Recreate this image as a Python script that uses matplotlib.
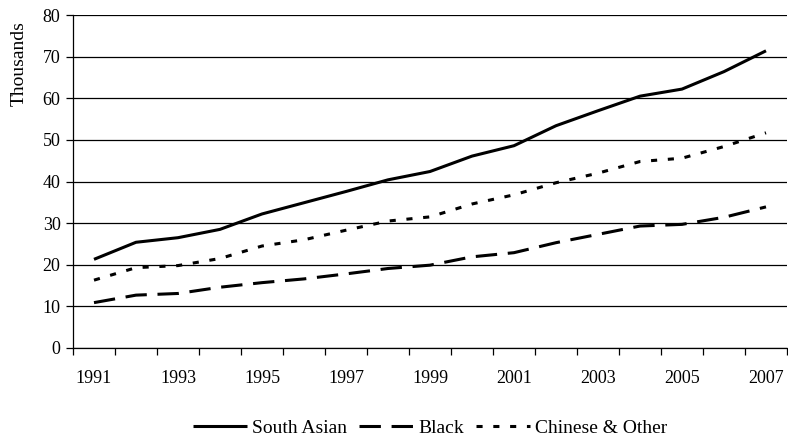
import matplotlib
matplotlib.use("Agg")
import matplotlib.pyplot as plt
import numpy as np

years = list(range(1991, 2008))
south_asian = [21.3, 25.4, 26.5, 28.5, 32.2, 34.9, 37.6, 40.4, 42.4, 46.1, 48.6,
               53.4, 57.0, 60.5, 62.2, 66.4, 71.4]
black = [10.9, 12.7, 13.1, 14.6, 15.7, 16.6, 17.8, 19.1, 19.9, 21.9, 22.9,
         25.3, 27.3, 29.3, 29.7, 31.4, 33.9]
chinese_other = [16.3, 19.3, 19.8, 21.5, 24.5, 26.0, 28.3, 30.5, 31.5, 34.6, 36.8,
                 39.7, 42.0, 44.8, 45.6, 48.4, 51.7]
y_ticks = [0, 10, 20, 30, 40, 50, 60, 70, 80]

plt.rcParams['font.family'] = ['Liberation Serif', 'DejaVu Serif']

fig = plt.figure(figsize=(7.88, 4.45), dpi=100)
ax = fig.add_axes([73 / 788, 97 / 445, 714 / 788, 333 / 445])

x = np.arange(len(years))
lw = 2.2
ax.plot(x, south_asian, color='black', lw=lw, solid_capstyle='butt', label='South Asian')
ax.plot(x, black, color='black', lw=lw, dashes=(7, 3.5), dash_capstyle='butt', label='Black')
ax.plot(x, chinese_other, color='black', lw=lw, dashes=(2, 3.5), dash_capstyle='butt',
        label='Chinese & Other')

ax.set_xlim(-0.5, len(years) - 0.5)
ax.set_ylim(0, 80)
ax.set_yticks(y_ticks)
ax.yaxis.grid(True, color='black', lw=0.9)
ax.set_axisbelow(True)

# ticks sit between categories; labels sit on every other category centre
ax.set_xticks(np.arange(-0.5, len(years), 1.0))
ax.set_xticklabels([])
ax.set_xticks(x[::2], minor=True)
ax.set_xticklabels([str(y) for y in years[::2]], minor=True)
ax.tick_params(axis='x', which='major', direction='out', length=5, width=0.9, color='black')
ax.tick_params(axis='x', which='minor', length=0, pad=16, labelsize=13)
ax.tick_params(axis='y', direction='out', length=5, width=0.9, labelsize=13, pad=4)

for s in ['top', 'right']:
    ax.spines[s].set_visible(False)
for s in ['left', 'bottom']:
    ax.spines[s].set_color('black')
    ax.spines[s].set_linewidth(0.9)

fig.text(19 / 788, 1 - 64 / 445, 'Thousands', rotation=90, ha='center', va='center', fontsize=14)

# legend centred under the plotting area
fig.legend(loc='center', bbox_to_anchor=(430 / 788, 1 - 428 / 445), ncol=3, frameon=False,
           fontsize=14, handlelength=2.8, handletextpad=0.25, columnspacing=0.6)

fig.savefig('out.png', dpi=100)
